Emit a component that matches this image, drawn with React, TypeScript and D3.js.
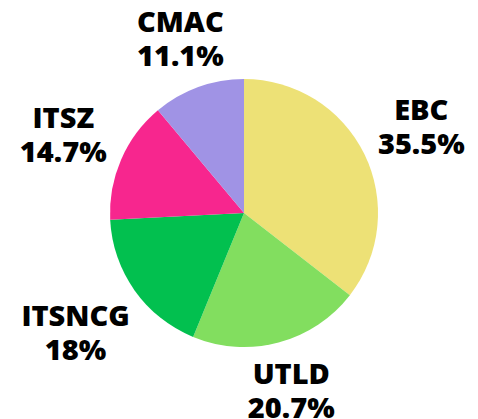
import { useEffect, useRef } from "react";
import * as d3 from "d3";

const categorias = ["EBC", "UTLD", "ITSNCG", "ITSZ", "CMAC"];
const porcentajes = [35.5, 20.7, 18, 14.7, 11.1];
const etiquetasValor = ["35.5%", "20.7%", "18%", "14.7%", "11.1%"];
const colores = ["#EDE176", "#82DE5F", "#02C04F", "#F7268E", "#A093E5"];

interface Rebanada {
  nombre: string;
  valor: number;
  texto: string;
  color: string;
}

export default function App() {
  const svgRef = useRef<SVGSVGElement>(null);
  const ANCHO = 478;
  const ALTO = 419;

  useEffect(() => {
    if (!svgRef.current) return;
    const svg = d3.select(svgRef.current);
    svg.selectAll("*").remove();

    const datos: Rebanada[] = categorias.map((c, i) => ({
      nombre: c,
      valor: porcentajes[i],
      texto: etiquetasValor[i],
      color: colores[i],
    }));

    const radio = 134;
    const radioEtiqueta = 147;
    const g = svg.append("g").attr("transform", "translate(244,213)");

    const pie = d3
      .pie<Rebanada>()
      .value((d) => d.valor)
      .sort(null);
    const arco = d3.arc<d3.PieArcDatum<Rebanada>>().innerRadius(0).outerRadius(radio);

    const partes = pie(datos);

    g.selectAll("path")
      .data(partes)
      .enter()
      .append("path")
      .attr("d", arco)
      .attr("fill", (d) => d.data.color);

    const etiquetas = g
      .selectAll("text")
      .data(partes)
      .enter()
      .append("text")
      .attr("text-anchor", "middle")
      .attr("font-family", "'Open Sans', Lato, sans-serif")
      .attr("font-weight", 800)
      .attr("font-size", 29)
      .attr("fill", "#000");

    etiquetas
      .append("tspan")
      .attr("x", 0)
      .attr("y", -6)
      .text((d) => d.data.nombre);
    etiquetas
      .append("tspan")
      .attr("x", 0)
      .attr("y", 28)
      .text((d) => d.data.texto);

    // Cada etiqueta se aleja del centro según el tamaño de su caja, para no pisar la tarta.
    etiquetas.attr("transform", function (d) {
      const caja = (this as SVGTextElement).getBBox();
      const medioAncho = caja.width / 2;
      const medioAlto = 26;
      const angulo = (d.startAngle + d.endAngle) / 2;
      const s = Math.sin(angulo);
      const c = Math.cos(angulo);
      const r = radioEtiqueta + Math.abs(medioAncho * s) + Math.abs(medioAlto * c);
      return `translate(${r * s},${-r * c})`;
    });
  }, []);

  return (
    <svg
      ref={svgRef}
      width={ANCHO}
      height={ALTO}
      style={{ position: "absolute", left: 0, top: 0, background: "#fff" }}
    />
  );
}
